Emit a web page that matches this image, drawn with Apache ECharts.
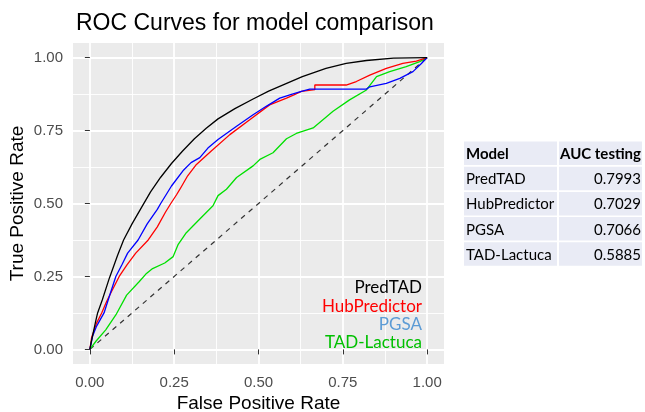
<!DOCTYPE html>
<html>
<head>
<meta charset="utf-8">
<script src="https://cdn.jsdelivr.net/npm/echarts@6/dist/echarts.min.js"></script>
<style>
    html, body { margin: 0; padding: 0; background: #fff; }
    #chart { width: 645px; height: 412px; }
</style>
</head>
<body>
<div id="chart"></div>
<script>
// ROC curve points, [FPR, TPR]
var predTAD = [[0,0],[0.005,0.03],[0.018,0.1],[0.023,0.125],[0.037,0.17],[0.058,0.245],[0.082,0.322],[0.1,0.375],[0.125,0.43],[0.155,0.49],[0.18,0.54],[0.21,0.59],[0.242,0.637],[0.275,0.68],[0.31,0.722],[0.345,0.758],[0.38,0.79],[0.43,0.825],[0.484,0.858],[0.53,0.885],[0.58,0.91],[0.63,0.935],[0.7,0.963],[0.76,0.98],[0.82,0.99],[0.9,0.998],[1,1]];
var hubPredictor = [[0,0],[0.005,0.04],[0.02,0.09],[0.035,0.125],[0.05,0.165],[0.065,0.2],[0.087,0.25],[0.11,0.29],[0.136,0.33],[0.173,0.375],[0.2,0.42],[0.224,0.47],[0.24,0.5],[0.257,0.53],[0.267,0.549],[0.29,0.595],[0.316,0.634],[0.36,0.68],[0.415,0.736],[0.474,0.787],[0.533,0.838],[0.583,0.861],[0.605,0.872],[0.627,0.884],[0.667,0.89],[0.667,0.906],[0.76,0.906],[0.79,0.918],[0.83,0.94],[0.879,0.963],[0.928,0.98],[0.968,0.988],[1,1]];
var pgsa = [[0,0],[0.008,0.045],[0.02,0.08],[0.042,0.125],[0.06,0.19],[0.077,0.25],[0.095,0.29],[0.112,0.33],[0.143,0.375],[0.17,0.43],[0.2,0.48],[0.21,0.5],[0.242,0.56],[0.276,0.612],[0.3,0.64],[0.326,0.657],[0.35,0.69],[0.38,0.719],[0.435,0.765],[0.484,0.804],[0.523,0.833],[0.563,0.861],[0.6,0.875],[0.63,0.885],[0.652,0.892],[0.82,0.892],[0.83,0.9],[0.879,0.912],[0.919,0.929],[0.958,0.952],[0.983,0.98],[1,1]];
var tadLactuca = [[0,0],[0.018,0.028],[0.047,0.067],[0.077,0.118],[0.109,0.186],[0.146,0.232],[0.166,0.258],[0.186,0.277],[0.222,0.296],[0.247,0.318],[0.262,0.36],[0.286,0.4],[0.326,0.447],[0.365,0.492],[0.38,0.527],[0.405,0.549],[0.435,0.589],[0.484,0.629],[0.504,0.651],[0.543,0.674],[0.583,0.722],[0.612,0.74],[0.662,0.759],[0.721,0.816],[0.77,0.855],[0.82,0.889],[0.85,0.935],[0.889,0.952],[0.938,0.969],[0.978,0.986],[1,1]];
var chance = [[0,0],[1,1]];

var majorTicks = [0, 0.25, 0.5, 0.75, 1];
var minorTicks = [0.125, 0.375, 0.625, 0.875];

var models = ['PredTAD', 'HubPredictor', 'PGSA', 'TAD-Lactuca'];
var aucTesting = [0.7993, 0.7029, 0.7066, 0.5885];
var lineColors = ['#000000', '#ff0000', '#0000ff', '#00e000'];
var legendColors = ['#000000', '#ff0000', '#5b9bd5', '#00c000'];

var chart = echarts.init(document.getElementById('chart'));

var gridLeft = 73, gridTop = 43, gridW = 371, gridH = 321;
var tickFont = 'Liberation Sans, Arial, sans-serif';
var tableFont = 'Lato, Calibri, sans-serif';

function fmt(v) { return v.toFixed(2); }

// legend texts inside the panel, right aligned
var graphics = [];
models.forEach(function (m, i) {
    graphics.push({
        type: 'text', z: 100,
        x: 422, y: 288 + i * 18.2,
        style: { text: m, fill: legendColors[i], font: '17px ' + tableFont, textAlign: 'right', textVerticalAlign: 'middle' }
    });
});

// AUC table
var colX = [464, 559], colW = [93, 83];
var rowTop = 141.5, rowH = 23.5, rowPitch = 25.2;
var rows = [['Model', 'AUC testing']].concat(models.map(function (m, i) {
    return [m, aucTesting[i].toFixed(4)];
}));
rows.forEach(function (r, ri) {
    var y = rowTop + ri * rowPitch;
    for (var c = 0; c < 2; c++) {
        graphics.push({
            type: 'rect', z: 100,
            shape: { x: colX[c], y: y, width: colW[c], height: rowH },
            style: { fill: '#e9ebf5' }
        });
    }
    var font = (ri === 0 ? 'bold ' : '') + '15px ' + tableFont;
    graphics.push({
        type: 'text', z: 101, x: colX[0] + 2, y: y + rowH / 2 + 1,
        style: { text: r[0], fill: '#000', font: font, textVerticalAlign: 'middle' }
    });
    graphics.push({
        type: 'text', z: 101, x: colX[1] + colW[1] - 1, y: y + rowH / 2 + 1,
        style: { text: r[1], fill: '#000', font: font, textAlign: 'right', textVerticalAlign: 'middle' }
    });
});

function curve(name, data, color) {
    return {
        name: name, type: 'line', data: data, symbol: 'none',
        lineStyle: { color: color, width: 1.3 }, silent: true, animation: false
    };
}

var option = {
    animation: false,
    title: {
        text: 'ROC Curves for model comparison',
        left: 71, top: 7,
        textStyle: { fontFamily: tickFont, fontSize: 23, fontWeight: 'normal', color: '#000' }
    },
    grid: {
        left: gridLeft, top: gridTop, width: gridW, height: gridH,
        outerBoundsMode: 'none', containLabel: false,
        show: true, backgroundColor: '#ebebeb', borderWidth: 0
    },
    xAxis: [{
        type: 'value', min: -0.05, max: 1.05,
        name: 'False Positive Rate', nameLocation: 'middle', nameGap: 30, nameMoveOverlap: false,
        nameTextStyle: { fontFamily: tickFont, fontSize: 19, color: '#000' },
        axisLine: { show: false },
        axisTick: { show: true, customValues: majorTicks, length: 5, lineStyle: { color: '#333', width: 1 } },
        axisLabel: { customValues: majorTicks, formatter: fmt, margin: 11, fontFamily: tickFont, fontSize: 15, color: '#4d4d4d' },
        splitLine: { show: true, lineStyle: { color: '#fff', width: 1.8 } }
    }, {
        type: 'value', min: -0.05, max: 1.05, position: 'top',
        axisLine: { show: false },
        axisTick: { show: false, customValues: minorTicks },
        axisLabel: { show: false },
        splitLine: { show: true, lineStyle: { color: '#fff', width: 0.9 } }
    }],
    yAxis: [{
        type: 'value', min: -0.05, max: 1.05,
        name: 'True Positive Rate', nameLocation: 'middle', nameGap: 46, nameMoveOverlap: false,
        nameTextStyle: { fontFamily: tickFont, fontSize: 19, color: '#000' },
        axisLine: { show: false },
        axisTick: { show: true, customValues: majorTicks, length: 5, lineStyle: { color: '#333', width: 1 } },
        axisLabel: { customValues: majorTicks, formatter: fmt, margin: 10, fontFamily: tickFont, fontSize: 15, color: '#4d4d4d' },
        splitLine: { show: true, lineStyle: { color: '#fff', width: 1.8 } }
    }, {
        type: 'value', min: -0.05, max: 1.05, position: 'right',
        axisLine: { show: false },
        axisTick: { show: false, customValues: minorTicks },
        axisLabel: { show: false },
        splitLine: { show: true, lineStyle: { color: '#fff', width: 0.9 } }
    }],
    series: [
        {
            name: 'chance', type: 'line', data: chance, symbol: 'none', silent: true,
            lineStyle: { color: '#333', width: 1.2, type: [5, 5] }
        },
        curve(models[3], tadLactuca, lineColors[3]),
        curve(models[1], hubPredictor, lineColors[1]),
        curve(models[2], pgsa, lineColors[2]),
        curve(models[0], predTAD, lineColors[0])
    ],
    graphic: graphics
};

chart.setOption(option);
</script>
</body>
</html>
